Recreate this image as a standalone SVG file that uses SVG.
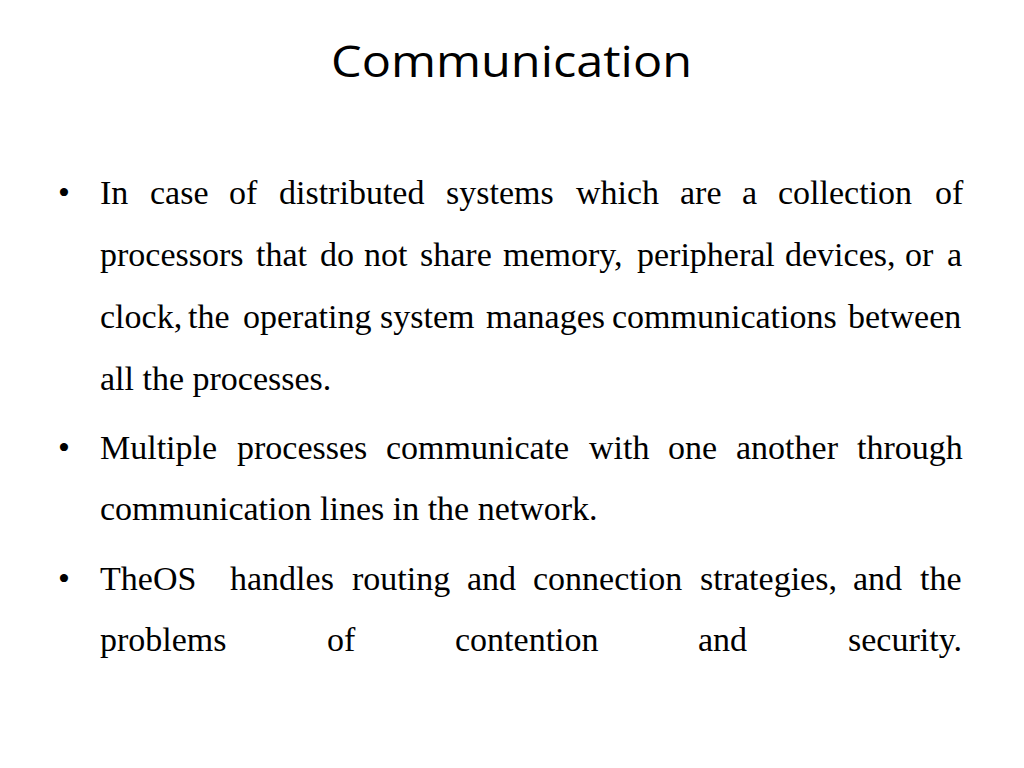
<svg xmlns="http://www.w3.org/2000/svg" width="1024" height="768" viewBox="0 0 1024 768">
<style>
.t{font-family:"Liberation Serif",serif;font-size:34px;fill:#000}
.h{font-family:"Open Sans","Liberation Sans",sans-serif;font-size:44px;fill:#000}
</style>
<rect width="1024" height="768" fill="#fff"/>
<text class="h" x="331" y="77" textLength="361" lengthAdjust="spacingAndGlyphs">Communication</text>
<g class="t">
<text x="58" y="204">•</text>
<text y="204"><tspan x="100">In</tspan><tspan x="150">case</tspan><tspan x="229">of</tspan><tspan x="279">distributed</tspan><tspan x="446">systems</tspan><tspan x="576">which</tspan><tspan x="680">are</tspan><tspan x="742">a</tspan><tspan x="778">collection</tspan><tspan x="935">of</tspan></text>
<text y="266"><tspan x="100">processors</tspan><tspan x="256">that</tspan><tspan x="320">do</tspan><tspan x="364">not</tspan><tspan x="420">share</tspan><tspan x="503">memory,</tspan><tspan x="637">peripheral</tspan><tspan x="785">devices,</tspan><tspan x="905">or</tspan><tspan x="947">a</tspan></text>
<text y="328"><tspan x="100">clock,</tspan><tspan x="188">the</tspan><tspan x="243">operating</tspan><tspan x="380">system</tspan><tspan x="486">manages</tspan><tspan x="612">communications</tspan><tspan x="848">between</tspan></text>
<text x="100" y="390">all the processes.</text>
<text x="58" y="459">•</text>
<text y="459"><tspan x="100">Multiple</tspan><tspan x="237">processes</tspan><tspan x="386">communicate</tspan><tspan x="589">with</tspan><tspan x="668">one</tspan><tspan x="736">another</tspan><tspan x="857">through</tspan></text>
<text x="100" y="520">communication lines in the network.</text>
<text x="58" y="590">•</text>
<text y="590"><tspan x="100">The</tspan><tspan x="153">OS</tspan><tspan x="230">handles</tspan><tspan x="352">routing</tspan><tspan x="467">and</tspan><tspan x="533">connection</tspan><tspan x="700">strategies,</tspan><tspan x="853">and</tspan><tspan x="920">the</tspan></text>
<text y="651"><tspan x="100">problems</tspan><tspan x="327">of</tspan><tspan x="455">contention</tspan><tspan x="698">and</tspan><tspan x="848">security.</tspan></text>
</g>
</svg>
